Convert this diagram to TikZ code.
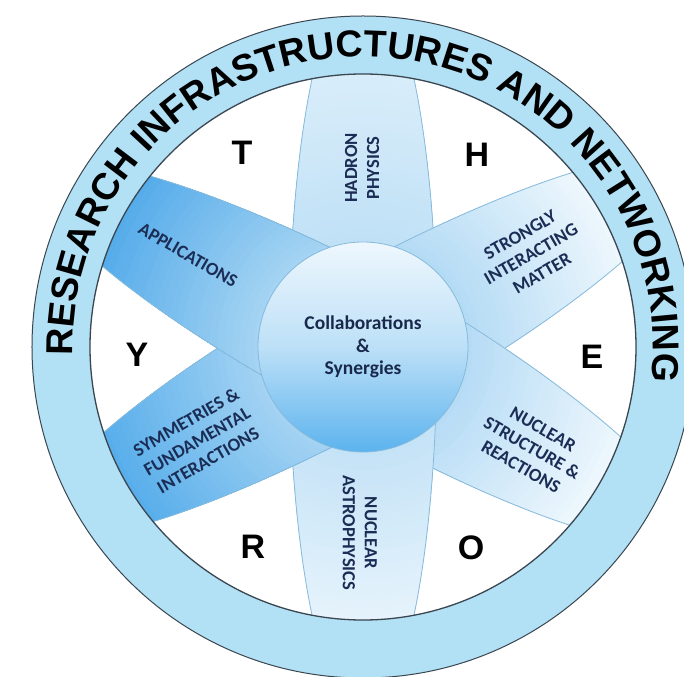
\documentclass[tikz,border=0pt]{standalone}
\usepackage{fontspec}
\usetikzlibrary{decorations.text}
\newfontfamily\calibfont{Carlito}
\newfontfamily\arialfont{Liberation Sans}
\definecolor{ringblue}{HTML}{B2E0F5}
\definecolor{ringline}{HTML}{3A4650}
\definecolor{edgeblue}{HTML}{86BADC}
\definecolor{navy}{HTML}{1B2D55}
\definecolor{hadI}{HTML}{BFE0F6}\definecolor{hadO}{HTML}{D8EDFA}
\definecolor{strI}{HTML}{B2DAF4}\definecolor{strO}{HTML}{EEF7FD}
\definecolor{nucI}{HTML}{B4DBF5}\definecolor{nucO}{HTML}{EEF7FD}
\definecolor{astI}{HTML}{C3E2F6}\definecolor{astO}{HTML}{E6F3FC}
\definecolor{symI}{HTML}{A6D4F3}\definecolor{symO}{HTML}{58AEEB}
\definecolor{appI}{HTML}{A8D5F3}\definecolor{appO}{HTML}{55ACEA}
\definecolor{cenT}{HTML}{EEF7FD}\definecolor{cenM}{HTML}{BDE0F7}\definecolor{cenB}{HTML}{5CB3EE}
\newcommand\ringtextfont{\arialfont\bfseries\fontsize{37.5pt}{37.5pt}\selectfont}
\newcommand\mypetal[3]{%
  \begin{scope}
    \clip[rotate=#1] (0pt,-74pt) arc [start angle=-90, end angle=90, x radius=370pt, y radius=74pt] -- cycle;
    \foreach \i in {0,...,24}{%
      \pgfmathsetmacro\rr{275-\i*7.2}%
      \pgfmathtruncatemacro\pp{100-\i*100/24}%
      \fill[#3!\pp!#2] (0,0) circle [radius=\rr pt];
    }
  \end{scope}
  \draw[petaledge, rotate=#1] (0pt,-74pt) arc [start angle=-90, end angle=90, x radius=370pt, y radius=74pt];
}
\begin{document}
\begin{tikzpicture}[x=1pt,y=1pt,
  petaledge/.style={draw=edgeblue, line width=0.8pt},
  ptext/.style={font=\calibfont\bfseries\fontsize{18.5}{22}\selectfont, text=navy, inner sep=0pt, align=center},
  ctext/.style={font=\calibfont\bfseries\fontsize{19.5}{22.5}\selectfont, text=navy!90!black, inner sep=0pt, align=center},
  bigletter/.style={font=\arialfont\bfseries\fontsize{34}{34}\selectfont, text=black, inner sep=0pt}]
\useasboundingbox (-363,-329) rectangle (321,347);
\fill[white] (-363,-329) rectangle (321,347);
% petals
\begin{scope}
  \clip (0,0) circle [radius=273pt];
  \mypetal{90}{hadI}{hadO}
  \mypetal{29}{strI}{strO}
  \mypetal{-30}{nucI}{nucO}
  \mypetal{-90}{astI}{astO}
  \mypetal{-151}{symI}{symO}
  \mypetal{152}{appI}{appO}
\end{scope}
% centre
\shade[top color=cenT, bottom color=cenB, middle color=cenM, draw=edgeblue, line width=0.8pt] (0,0) circle [radius=105pt];
\node[ctext] (centre) at (0,0) {Collaborations\\\&\\Synergies};
% ring
\fill[ringblue, even odd rule] (0,0) circle [radius=331pt] (0,0) circle [radius=273pt];
\draw[ringline, line width=1.3pt] (0,0) circle [radius=273pt];
\draw[ringline, line width=1pt] (0,0) circle [radius=331pt];
\path[decorate, decoration={text along path, text align=center,
   text={|\ringtextfont|RESEARCH INFRASTRUCTURES AND NETWORKING}}]
   (200:290pt) arc [start angle=200, end angle=-25, radius=290pt];
% letters
\node[bigletter] (T) at (-121,194) {T};
\node[bigletter] (H) at (114,192) {H};
\node[bigletter] (E) at (229,-10) {E};
\node[bigletter] (O) at (108,-201) {O};
\node[bigletter] (R) at (-110,-200) {R};
\node[bigletter] (Y) at (-226,-8) {Y};
% petal texts
\node[ptext, rotate=90] (hadron) at (-1,179) {HADRON\\PHYSICS};
\node[ptext, rotate=30] (strong) at (168,93) {STRONGLY\\INTERACTING\\MATTER};
\node[ptext, rotate=-30] (nuclear) at (169,-101) {NUCLEAR\\STRUCTURE \&\\REACTIONS};
\node[ptext, rotate=-90] (astro) at (-3,-186) {NUCLEAR\\ASTROPHYSICS};
\node[ptext, rotate=30] (symm) at (-166,-94) {SYMMETRIES \&\\FUNDAMENTAL\\INTERACTIONS};
\node[ptext, rotate=-30] (appl) at (-175,92) {APPLICATIONS};
\end{tikzpicture}
\end{document}
